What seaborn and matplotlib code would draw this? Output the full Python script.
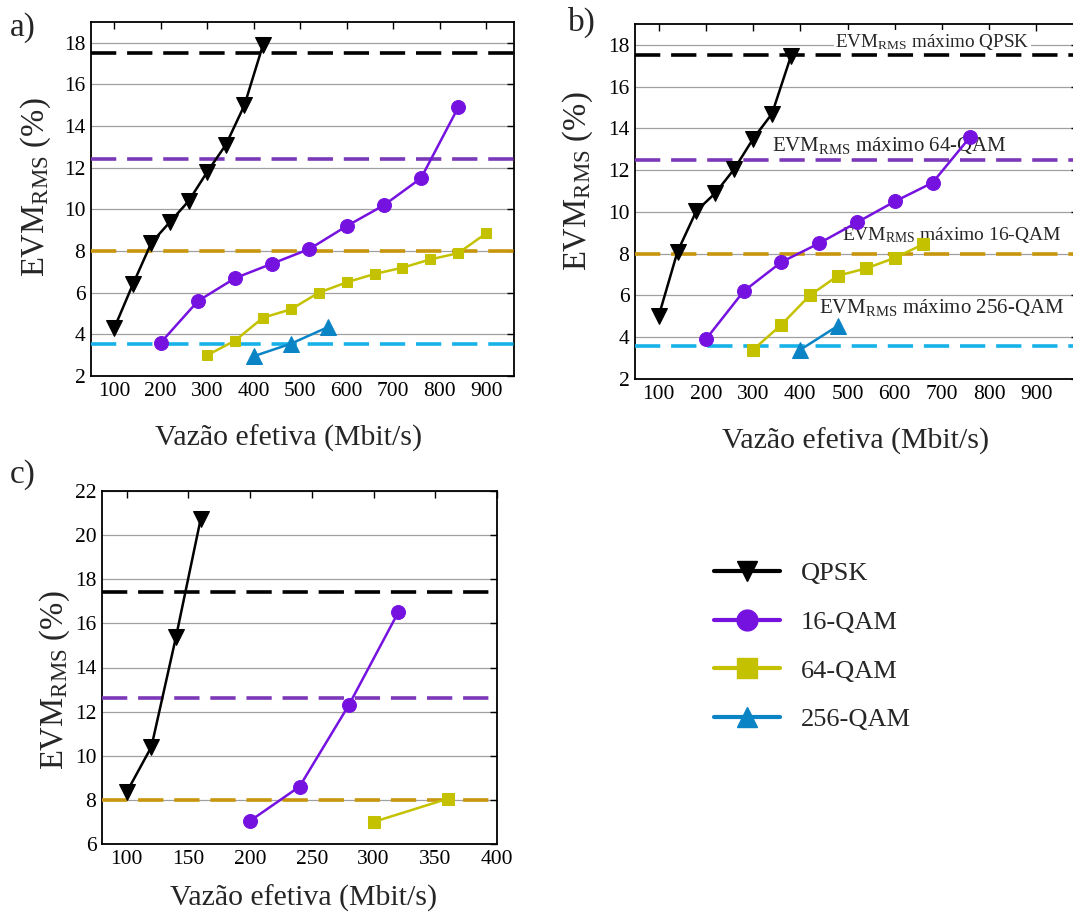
import matplotlib
matplotlib.use('Agg')
import matplotlib.pyplot as plt
from matplotlib.lines import Line2D
import seaborn as sns

# panel a)
a_qpsk_x = [100, 140, 180, 220, 260, 300, 340, 380, 420]
a_qpsk_y = [4.3, 6.4, 8.4, 9.4, 10.4, 11.8, 13.1, 15.0, 17.9]
a_16_x = [200, 280, 360, 440, 520, 600, 680, 760, 840]
a_16_y = [3.6, 5.6, 6.7, 7.4, 8.1, 9.2, 10.2, 11.5, 14.9]
a_64_x = [300, 360, 420, 480, 540, 600, 660, 720, 780, 840, 900]
a_64_y = [3.0, 3.7, 4.8, 5.2, 6.0, 6.5, 6.9, 7.2, 7.6, 7.9, 8.85]
a_256_x = [400, 480, 560]
a_256_y = [2.95, 3.55, 4.35]
a_limits = [17.5, 12.4, 8.0, 3.55]

# panel b)
b_qpsk_x = [100, 140, 180, 220, 260, 300, 340, 380]
b_qpsk_y = [5.0, 8.1, 10.05, 10.9, 12.05, 13.5, 14.7, 17.45]
b_16_x = [200, 280, 360, 440, 520, 600, 680, 760]
b_16_y = [3.9, 6.2, 7.6, 8.5, 9.5, 10.5, 11.4, 13.6]
b_64_x = [300, 360, 420, 480, 540, 600, 660]
b_64_y = [3.4, 4.6, 6.0, 6.95, 7.3, 7.8, 8.45]
b_256_x = [400, 480]
b_256_y = [3.4, 4.55]
b_limits = [17.5, 12.5, 8.0, 3.6]

# panel c)
c_qpsk_x = [100, 120, 140, 160]
c_qpsk_y = [8.35, 10.4, 15.4, 20.75]
c_16_x = [200, 240, 280, 320]
c_16_y = [7.05, 8.6, 12.3, 16.5]
c_64_x = [300, 360]
c_64_y = [7.0, 8.05]
c_limits = [17.4, 12.6, 8.0]

labels = ['QPSK', '16-QAM', '64-QAM', '256-QAM']
colors = ['#000000', '#7612E0', '#C4C200', '#0B84C6']
markers = ['v', 'o', 's', '^']
limit_colors = ['#000000', '#7B38B8', '#C8960C', '#16B2E8']

sns.set_theme(style='white')
plt.rcParams['font.family'] = ['Liberation Serif', 'DejaVu Serif']
plt.rcParams['mathtext.fontset'] = 'custom'
plt.rcParams['mathtext.rm'] = 'Liberation Serif'
plt.rcParams['mathtext.it'] = 'Liberation Serif:italic'

fig = plt.figure(figsize=(10.73, 9.13), dpi=100)
W, H = 1073.0, 913.0


def add_axes(l, t, r, b):
    return fig.add_axes([l / W, 1 - b / H, (r - l) / W, (b - t) / H])


def style_axes(ax, xlim, ylim, xticks, yticks):
    ax.set_xlim(*xlim)
    ax.set_ylim(*ylim)
    ax.set_xticks(xticks)
    ax.set_yticks(yticks)
    ax.grid(axis='y', color='#a0a0a0', lw=0.9)
    ax.grid(axis='x', visible=False)
    ax.tick_params(direction='in', top=True, right=True, length=5,
                   width=1, labelsize=15.5, colors='black', pad=4)
    for s in ax.spines.values():
        s.set_color('black')
        s.set_linewidth(1.3)
    ax.set_xlabel('Vazão efetiva (Mbit/s)', fontsize=21.5)
    ax.set_ylabel(r'EVM$_{\mathrm{RMS}}$ (%)', fontsize=23.5)


def draw_series(ax, x, y, i, ms):
    sns.lineplot(x=x, y=y, ax=ax, color=colors[i], marker=markers[i],
                 markersize=ms, markeredgecolor=colors[i],
                 markerfacecolor=colors[i], lw=1.8, zorder=4)


def draw_limits(ax, vals):
    for v, c in zip(vals, limit_colors):
        ax.axhline(v, color=c, lw=2.6, dashes=(7, 3), zorder=3)


# a)
ax_a = add_axes(91, 22, 514, 376)
draw_limits(ax_a, a_limits)
draw_series(ax_a, a_qpsk_x, a_qpsk_y, 0, 11)
draw_series(ax_a, a_16_x, a_16_y, 1, 10)
draw_series(ax_a, a_64_x, a_64_y, 2, 7)
draw_series(ax_a, a_256_x, a_256_y, 3, 11)
style_axes(ax_a, (50, 960), (2, 19), range(100, 901, 100), range(2, 19, 2))
ax_a.xaxis.set_label_coords(0.466, -0.138)
ax_a.yaxis.set_label_coords(-0.09, 0.534)

# b)
ax_b = add_axes(635, 24, 1078, 379)
draw_limits(ax_b, b_limits)
draw_series(ax_b, b_qpsk_x, b_qpsk_y, 0, 11)
draw_series(ax_b, b_16_x, b_16_y, 1, 10)
draw_series(ax_b, b_64_x, b_64_y, 2, 9)
draw_series(ax_b, b_256_x, b_256_y, 3, 11)
style_axes(ax_b, (50, 988), (2, 19), range(100, 901, 100), range(2, 19, 2))
ax_b.xaxis.set_label_coords(0.497, -0.138)
ax_b.yaxis.set_label_coords(-0.09, 0.557)
ax_b.text(474, 18.15, r'EVM$_{\mathrm{RMS}}$ máximo QPSK', fontsize=13.8, va='center',
          ha='left', zorder=5, bbox=dict(facecolor='white', edgecolor='none', pad=1))
ax_b.text(340, 13.2, r'EVM$_{\mathrm{RMS}}$ máximo 64-QAM', fontsize=15, va='center',
          ha='left', zorder=3)
ax_b.text(488, 8.9, r'EVM$_{\mathrm{RMS}}$ máximo 16-QAM', fontsize=14, va='center',
          ha='left', zorder=3)
ax_b.text(439, 5.4, r'EVM$_{\mathrm{RMS}}$ máximo 256-QAM', fontsize=15, va='center',
          ha='left', zorder=3)

# c)
ax_c = add_axes(102, 491, 497, 844)
draw_limits(ax_c, c_limits)
draw_series(ax_c, c_qpsk_x, c_qpsk_y, 0, 11)
draw_series(ax_c, c_16_x, c_16_y, 1, 10)
draw_series(ax_c, c_64_x, c_64_y, 2, 9)
style_axes(ax_c, (80, 400), (6, 22), range(100, 401, 50), range(6, 23, 2))
ax_c.xaxis.set_label_coords(0.511, -0.115)
ax_c.yaxis.set_label_coords(-0.076, 0.465)

# panel letters
fig.text(10 / W, 1 - 28 / H, 'a)', fontsize=24, va='center', ha='left')
fig.text(568 / W, 1 - 22 / H, 'b)', fontsize=24, va='center', ha='left')
fig.text(10 / W, 1 - 475 / H, 'c)', fontsize=24, va='center', ha='left')

# legend
handles = [Line2D([0], [0], color=colors[i], marker=markers[i], lw=3,
                  markersize=15, markerfacecolor=colors[i], markeredgecolor=colors[i])
           for i in range(4)]
fig.legend(handles, labels, loc='upper left', bbox_to_anchor=(714 / W, 1 - 562 / H),
           frameon=False, fontsize=19, handlelength=2.5, labelspacing=0.95,
           borderpad=0, borderaxespad=0, handletextpad=0.8)

fig.savefig('out.png', dpi=100)
